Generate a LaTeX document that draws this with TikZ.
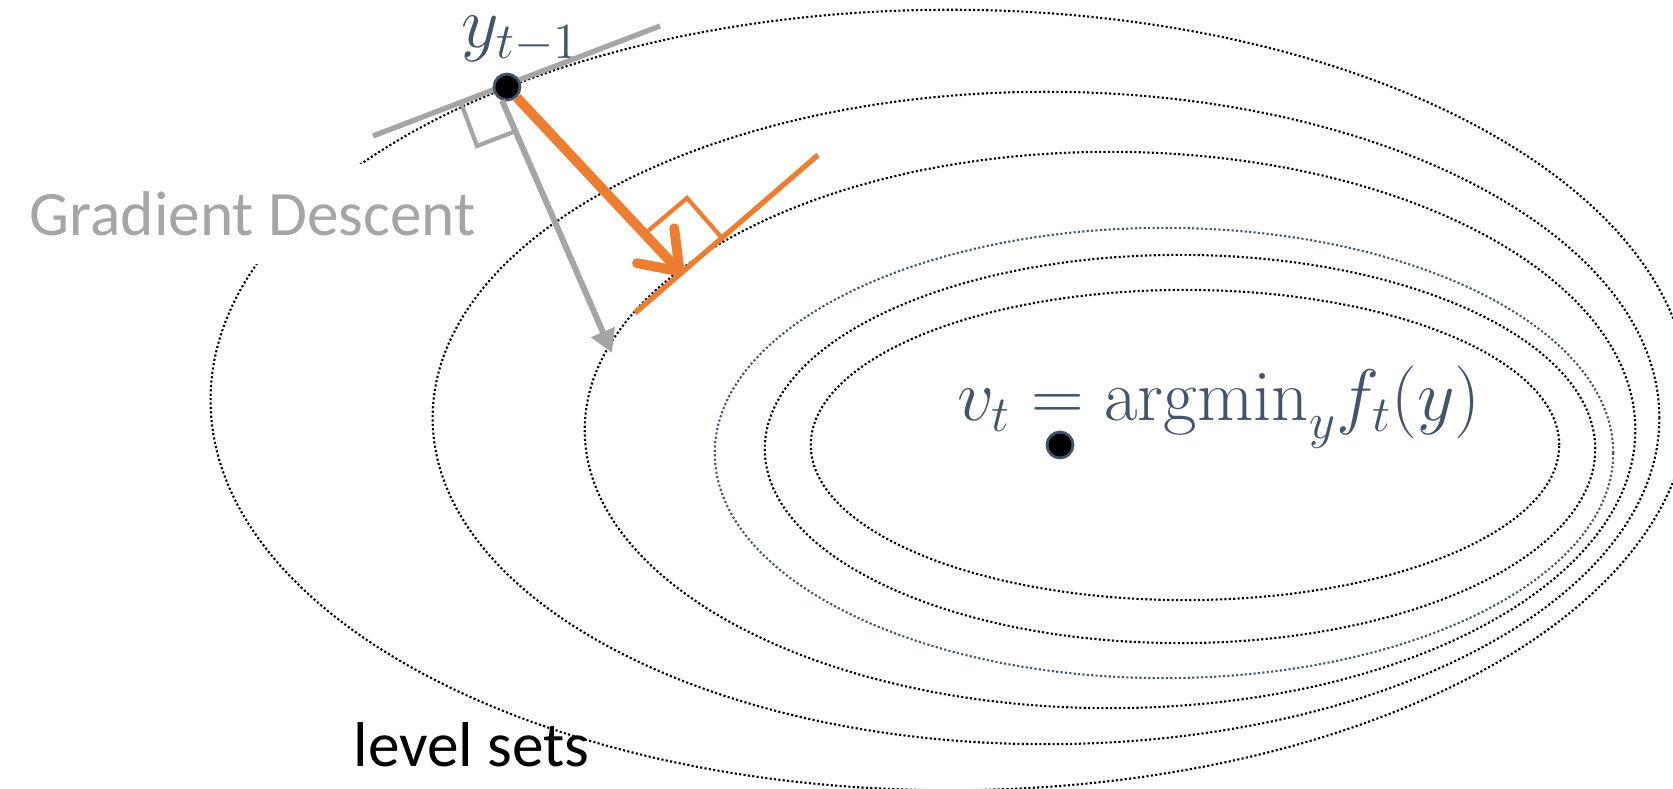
\documentclass[tikz,border=0pt]{standalone}
\usepackage{fontspec}
\newfontfamily\officefont{Carlito}
\usetikzlibrary{arrows.meta}
\definecolor{gdgray}{HTML}{A5A5A5}
\definecolor{steporange}{HTML}{ED7D31}
\definecolor{mathblue}{HTML}{44546A}
\begin{document}
\begin{tikzpicture}[
  x=0.01cm, y=-0.01cm,
  levelset/.style={line width=0.6pt, dash pattern=on 0.6pt off 0.65pt},
  ptdot/.style={circle, fill=black, draw=mathblue, line width=0.8pt, inner sep=0pt, minimum size=0.26cm},
  mathlabel/.style={text=mathblue, font=\huge, inner sep=0pt},
  wordlabel/.style={font=\officefont\fontsize{18}{22}\selectfont, inner sep=0pt},
  gdarrow/.style={-{Triangle[length=6.5pt, width=7pt]}, draw=gdgray, line width=1.7pt},
  mdarrow/.style={-{Straight Barb[length=10pt, width=14.5pt, round]}, draw=steporange, line width=2.8pt},
  tangent/.style={line width=1.5pt},
  rightangle/.style={line width=1.2pt}
]
\useasboundingbox (0,0) rectangle (1673,789);
\clip (0,0) rectangle (1673,789);
% level sets
\draw[levelset] (1185,445) ellipse [x radius=3.74cm, y radius=1.55cm];
\draw[levelset] (1180,449) ellipse [x radius=4.15cm, y radius=1.94cm];
\draw[levelset, draw=mathblue] (1164,453) ellipse [x radius=4.49cm, y radius=2.25cm];
\draw[levelset] (1110,430) ellipse [x radius=5.25cm, y radius=2.78cm];
\draw[levelset] (1046,418) ellipse [x radius=6.13cm, y radius=3.26cm];
\draw[levelset] (950,400) ellipse [x radius=7.39cm, y radius=3.90cm];
% labels
\node[wordlabel, text=gdgray, fill=white, minimum height=1cm, inner xsep=4pt, anchor=base west] (gdtext) at (15,236) {Gradient Descent};
\node[wordlabel, anchor=base west] (lstext) at (353,767) {level sets};
\node[mathlabel, anchor=base] (ytmlabel) at (521,48) {$y_{t-1}$};
\node[mathlabel, anchor=base] (vtlabel) at (1219,421) {$v_t = \mathrm{argmin}_y f_t(y)$};
% tangents and right angles
\draw[tangent, gdgray] (373,136) -- (660,26);
\draw[rightangle, gdgray] (461,103) -- (477,146) -- (516,131);
\draw[tangent, steporange] (635,313) -- (818,155);
\draw[rightangle, steporange] (648,231) -- (687,198) -- (722,238);
% points and steps
\node[ptdot] (ytm) at (507,87) {};
\node[ptdot] (vt) at (1060,445) {};
\coordinate (gdtip) at (612,353);
\coordinate (mdtip) at (683,275);
\draw[gdarrow] (ytm.250) -- (gdtip);
\draw[mdarrow] (ytm) -- (mdtip);
\end{tikzpicture}
\end{document}
